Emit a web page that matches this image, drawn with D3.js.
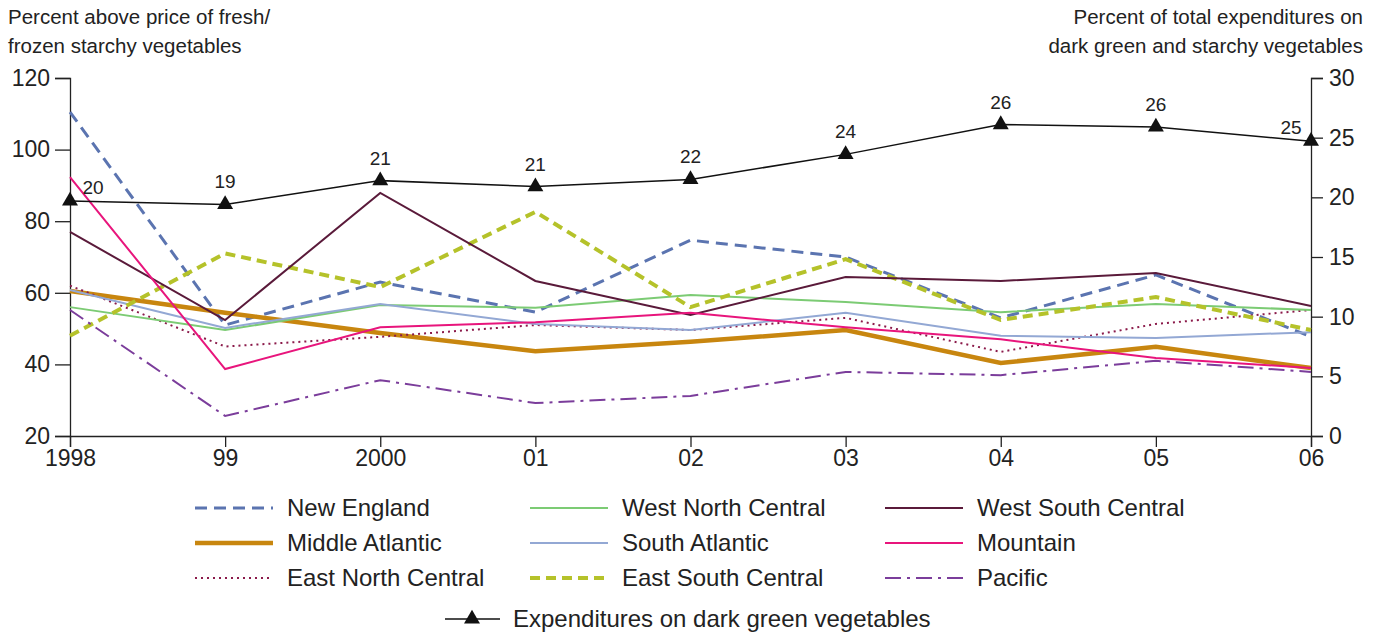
<!DOCTYPE html>
<html><head><meta charset="utf-8">
<script src="https://cdn.jsdelivr.net/npm/d3@7"></script>
<style>body{margin:0;background:#fff}svg{font-family:"Liberation Sans",Arial,sans-serif}</style>
</head><body><div id="root"></div>
<script>
const years = ['1998', '99', '2000', '01', '02', '03', '04', '05', '06'];
const newEngland = [110.5, 51, 63, 54.6, 74.7, 70, 53, 65, 47.7];
const middleAtlantic = [60.5, 54.4, 48.8, 43.7, 46.3, 49.6, 40.4, 44.9, 39];
const eastNorthCentral = [62, 45, 47.7, 51, 49.6, 53, 43.5, 51.3, 55.2];
const westNorthCentral = [56, 49.6, 56.6, 55.8, 59.4, 57.4, 54.6, 56.9, 55.2];
const southAtlantic = [60.8, 50.2, 56.9, 51.3, 49.6, 54.4, 48, 47.4, 49];
const eastSouthCentral = [48, 71, 61.6, 82.6, 56, 69.4, 52.4, 58.8, 49.6];
const westSouthCentral = [77, 52.4, 87.9, 63.3, 53.8, 64.4, 63.3, 65.5, 56.3];
const mountain = [92.3, 38.7, 50.4, 51.8, 54.4, 50.4, 47, 41.8, 39];
const pacific = [55.2, 25.6, 35.6, 29.2, 31.2, 37.9, 37, 41, 37.9];
const expenditures = [19.7, 19.4, 21.4, 20.9, 21.5, 23.6, 26.1, 25.9, 24.7];
const expLabels = ['20', '19', '21', '21', '22', '24', '26', '26', '25'];

const series = [
    { name: 'New England', values: newEngland, color: '#5b74b0', w: 3, dash: '12,7' },
    { name: 'Middle Atlantic', values: middleAtlantic, color: '#c8860f', w: 4.5, dash: null },
    { name: 'East North Central', values: eastNorthCentral, color: '#8b1a4a', w: 2, dash: '2,4' },
    { name: 'West North Central', values: westNorthCentral, color: '#7ccb74', w: 2, dash: null },
    { name: 'South Atlantic', values: southAtlantic, color: '#93a8d4', w: 2, dash: null },
    { name: 'East South Central', values: eastSouthCentral, color: '#b5c22a', w: 4, dash: '10,6' },
    { name: 'West South Central', values: westSouthCentral, color: '#5a1a3a', w: 2, dash: null },
    { name: 'Mountain', values: mountain, color: '#e8157c', w: 2, dash: null },
    { name: 'Pacific', values: pacific, color: '#7b3d9b', w: 2, dash: '16,6,3,6' },
];

const svg = d3.select('#root').append('svg').attr('width', 1380).attr('height', 634);
const x = d3.scalePoint().domain(years).range([70, 1311]);
const y = d3.scaleLinear().domain([20, 120]).range([436, 78]);
const y2 = d3.scaleLinear().domain([0, 30]).range([436, 78]);

svg.append('g').attr('transform', 'translate(70,0)')
    .call(d3.axisLeft(y).ticks(5).tickSize(15).tickPadding(5))
    .call(g => g.selectAll('text').style('font-size', '23px').attr('fill', '#222'));
svg.append('g').attr('transform', 'translate(1311,0)')
    .call(d3.axisRight(y2).ticks(6).tickSize(12).tickPadding(6))
    .call(g => g.selectAll('text').style('font-size', '23px').attr('fill', '#222'));
svg.append('g').attr('transform', 'translate(0,436)')
    .call(d3.axisBottom(x).tickSize(11).tickPadding(3))
    .call(g => g.selectAll('text').style('font-size', '23px').attr('fill', '#222'));
svg.selectAll('.domain, .tick line').attr('stroke', '#222').attr('stroke-width', 1.3);

const t = (s, xx, yy, anchor, fs) => svg.append('text').attr('x', xx).attr('y', yy)
    .attr('text-anchor', anchor || 'start').style('font-size', fs || '24px').attr('fill', '#222').text(s);
t('Percent above price of fresh/', 8, 24, 'start', '20.5px');
t('frozen starchy vegetables', 8, 53, 'start', '20.5px');
t('Percent of total expenditures on', 1363, 24, 'end', '20.5px');
t('dark green and starchy vegetables', 1363, 53, 'end', '20.5px');

const line = d3.line().x((d, i) => x(years[i])).y(d => y(d));
series.forEach(s => {
    svg.append('path').attr('d', line(s.values)).attr('fill', 'none')
        .attr('stroke', s.color).attr('stroke-width', s.w)
        .attr('stroke-dasharray', s.dash);
});

const line2 = d3.line().x((d, i) => x(years[i])).y(d => y2(d));
svg.append('path').attr('d', line2(expenditures)).attr('fill', 'none').attr('stroke', '#111').attr('stroke-width', 1.5);
const tri = d3.symbol().type(d3.symbolTriangle).size(110);
svg.selectAll('.tri').data(expenditures).join('path').attr('d', tri)
    .attr('transform', (d, i) => `translate(${x(years[i])},${y2(d)})`).attr('fill', '#111');
svg.selectAll('.lab').data(expenditures).join('text')
    .attr('x', (d, i) => x(years[i]) + (i === 0 ? 23 : i === 8 ? -20 : 0))
    .attr('y', (d, i) => y2(d) - (i === 0 || i === 8 ? 7 : 16))
    .attr('text-anchor', 'middle').style('font-size', '19px').attr('fill', '#222')
    .text((d, i) => expLabels[i]);

// legend, column-major
const cols = [195, 530, 885];
const rows = [508, 543, 578];
series.forEach((s, k) => {
    const cx = cols[Math.floor(k / 3)], cy = rows[k % 3];
    svg.append('line').attr('x1', cx).attr('x2', cx + 78).attr('y1', cy).attr('y2', cy)
        .attr('stroke', s.color).attr('stroke-width', s.w).attr('stroke-dasharray', s.dash);
    t(s.name, cx + 92, cy + 8);
});
svg.append('line').attr('x1', 445).attr('x2', 500).attr('y1', 619).attr('y2', 619).attr('stroke', '#111').attr('stroke-width', 1.5);
svg.append('path').attr('d', tri).attr('transform', 'translate(472,619)').attr('fill', '#111');
t('Expenditures on dark green vegetables', 513, 627);
</script></body></html>
